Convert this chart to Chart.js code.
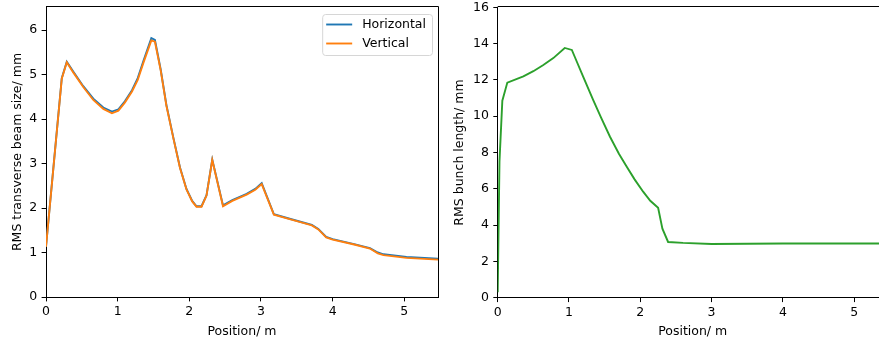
<!DOCTYPE html>
<html>
<head>
<meta charset="utf-8">
<script src="https://cdn.jsdelivr.net/npm/chart.js@4/dist/chart.umd.min.js"></script>
<style>
  html, body { margin: 0; padding: 0; background: #fff; overflow: hidden; }
  body { width: 879px; height: 341px; position: relative; }
  #left { position: absolute; left: 0; top: 0; }
  #right { position: absolute; left: 440px; top: 0; }
</style>
</head>
<body>
<canvas id="left" width="440" height="341"></canvas>
<canvas id="right" width="450" height="341"></canvas>
<script>
// transverse beam size along the line
const positionT = [0, 0.22, 0.29, 0.38, 0.52, 0.66, 0.80, 0.92, 1.01, 1.10, 1.20, 1.28, 1.36, 1.47, 1.52, 1.60, 1.68, 1.78, 1.87, 1.96, 2.04, 2.10, 2.17, 2.24, 2.32, 2.47, 2.60, 2.80, 2.92, 3.01, 3.18, 3.40, 3.60, 3.71, 3.80, 3.91, 4.00, 4.30, 4.52, 4.63, 4.71, 5.03, 5.47];
const sizeH = [1.13, 4.92, 5.29, 5.07, 4.74, 4.46, 4.26, 4.17, 4.22, 4.40, 4.65, 4.92, 5.31, 5.82, 5.78, 5.12, 4.32, 3.56, 2.91, 2.43, 2.16, 2.04, 2.04, 2.29, 3.09, 2.06, 2.18, 2.32, 2.43, 2.56, 1.86, 1.76, 1.67, 1.62, 1.53, 1.35, 1.30, 1.19, 1.10, 1.00, 0.96, 0.90, 0.86];
const sizeV = [1.13, 4.91, 5.28, 5.05, 4.72, 4.43, 4.23, 4.13, 4.19, 4.37, 4.62, 4.88, 5.27, 5.77, 5.74, 5.10, 4.30, 3.55, 2.90, 2.42, 2.15, 2.03, 2.03, 2.28, 3.08, 2.04, 2.16, 2.30, 2.41, 2.54, 1.85, 1.75, 1.66, 1.61, 1.52, 1.34, 1.29, 1.18, 1.09, 0.98, 0.94, 0.88, 0.84];

// bunch length along the line
const positionL = [0, 0.025, 0.065, 0.135, 0.36, 0.50, 0.64, 0.78, 0.94, 1.04, 1.11, 1.20, 1.34, 1.45, 1.575, 1.70, 1.81, 1.92, 2.04, 2.14, 2.25, 2.31, 2.39, 2.60, 3.00, 3.50, 4.00, 5.47];
const bunchLength = [0.3, 7.5, 10.85, 11.85, 12.2, 12.48, 12.82, 13.2, 13.76, 13.65, 13.0, 12.17, 10.89, 9.92, 8.87, 7.93, 7.22, 6.52, 5.84, 5.34, 4.95, 3.8, 3.07, 3.02, 2.96, 2.97, 2.99, 2.99];

const xTicks = [0, 1, 2, 3, 4, 5];
const yTicksT = [0, 1, 2, 3, 4, 5, 6];
const yTicksL = [0, 2, 4, 6, 8, 10, 12, 14, 16];

Chart.defaults.font.family = "'DejaVu Sans', sans-serif";
Chart.defaults.font.size = 12.5;
Chart.defaults.color = '#000';
Chart.defaults.animation = false;

const pts = (xs, ys) => xs.map((x, i) => ({x: x, y: ys[i]}));

// top/right spines like matplotlib
const framePlugin = {
  id: 'frame',
  afterDraw(chart) {
    const {ctx, chartArea: a} = chart;
    const t = Math.round(a.top) - 0.5, r = Math.round(a.right) + 0.5;
    ctx.save();
    ctx.strokeStyle = '#000';
    ctx.lineWidth = 1;
    ctx.beginPath();
    ctx.moveTo(a.left, t);
    ctx.lineTo(r, t);
    ctx.lineTo(r, a.bottom);
    ctx.stroke();
    ctx.restore();
  }
};

// legend box in the upper right of the plot
const boxLegend = {
  id: 'boxLegend',
  afterDraw(chart, args, opts) {
    if (!opts.show) return;
    const {ctx, chartArea: a} = chart;
    const sets = chart.data.datasets;
    ctx.save();
    ctx.font = "12.5px 'DejaVu Sans'";
    let tw = 0;
    sets.forEach(d => tw = Math.max(tw, ctx.measureText(d.label).width));
    const w = 4 + 26 + 10 + tw + 6, h = 41;
    const x = a.right - 6 - w, y = a.top + 7;
    ctx.beginPath();
    ctx.roundRect(x + 0.5, y + 0.5, w, h, 3);
    ctx.fillStyle = 'rgba(255,255,255,0.8)';
    ctx.fill();
    ctx.strokeStyle = '#d6d6d6';
    ctx.lineWidth = 1;
    ctx.stroke();
    sets.forEach((d, i) => {
      const ly = y + 10.5 + i * 19;
      ctx.strokeStyle = d.borderColor;
      ctx.lineWidth = 1.9;
      ctx.beginPath();
      ctx.moveTo(x + 4, ly);
      ctx.lineTo(x + 30, ly);
      ctx.stroke();
      ctx.fillStyle = '#000';
      ctx.textBaseline = 'middle';
      ctx.fillText(d.label, x + 40, ly);
    });
    ctx.restore();
  }
};

const axes = (yMin, yMax, yTicks, yTitle, yWidth, xHeight, titlePad) => ({
  x: {
    type: 'linear', min: 0, max: 5.47,
    afterBuildTicks: s => { s.ticks = xTicks.map(v => ({value: v})); },
    afterFit: s => { s.height = xHeight; s.paddingLeft = 0; s.paddingRight = 0; },
    grid: {drawOnChartArea: false, color: '#000', tickLength: 4.4, lineWidth: 1},
    border: {color: '#000', width: 1},
    ticks: {padding: 3, maxRotation: 0, color: '#000'},
    title: {display: true, text: 'Position/ m', color: '#000', padding: {top: 0, bottom: 2}}
  },
  y: {
    type: 'linear', min: yMin, max: yMax,
    afterBuildTicks: s => { s.ticks = yTicks.map(v => ({value: v})); },
    afterFit: s => { s.width = yWidth; s.paddingTop = 0; s.paddingBottom = 0; },
    grid: {drawOnChartArea: false, color: '#000', tickLength: 4.4, lineWidth: 1},
    border: {color: '#000', width: 1},
    ticks: {padding: 4.4, color: '#000'},
    title: {display: true, text: yTitle, color: '#000', padding: {top: titlePad, bottom: 0}}
  }
});

new Chart(document.getElementById('left'), {
  type: 'line',
  data: {
    datasets: [
      {label: 'Horizontal', data: pts(positionT, sizeH), borderColor: '#1f77b4', order: 1},
      {label: 'Vertical', data: pts(positionT, sizeV), borderColor: '#ff7f0e', order: 0}
    ]
  },
  options: {
    responsive: false,
    elements: {point: {radius: 0}, line: {borderWidth: 1.9, tension: 0}},
    layout: {padding: {top: 7, right: 2, left: 0, bottom: 0}},
    plugins: {legend: {display: false}, tooltip: {enabled: false}, boxLegend: {show: true}},
    scales: axes(0, 6.52, yTicksT, 'RMS transverse beam size/ mm', 46, 44, 10)
  },
  plugins: [framePlugin, boxLegend]
});

new Chart(document.getElementById('right'), {
  type: 'line',
  data: {
    datasets: [
      {label: 'Bunch length', data: pts(positionL, bunchLength), borderColor: '#2ca02c'}
    ]
  },
  options: {
    responsive: false,
    elements: {point: {radius: 0}, line: {borderWidth: 1.9, tension: 0}},
    layout: {padding: {top: 7.3, right: 2.3, left: 0, bottom: 0}},
    plugins: {legend: {display: false}, tooltip: {enabled: false}, boxLegend: {show: false}},
    scales: axes(0, 16, yTicksL, 'RMS bunch length/ mm', 57.7, 43.3, 12)
  },
  plugins: [framePlugin, boxLegend]
});
</script>
</body>
</html>
